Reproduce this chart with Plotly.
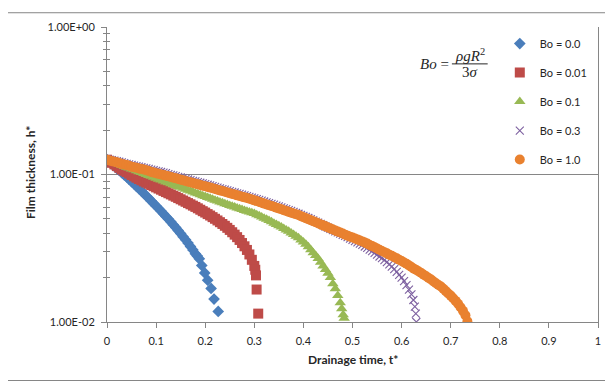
import plotly.graph_objects as go

# ---------------- data ----------------
# (drainage time t*, film thickness h*) pairs per series
bo0_points = [
    (0.000, 0.126), (0.005, 0.122), (0.010, 0.118), (0.015, 0.114), (0.020, 0.110),
    (0.025, 0.1065), (0.030, 0.103), (0.035, 0.0995), (0.040, 0.0962), (0.045, 0.0928),
    (0.050, 0.0895), (0.055, 0.0863), (0.060, 0.0832), (0.065, 0.0802), (0.070, 0.0773),
    (0.075, 0.0744), (0.080, 0.0716), (0.085, 0.0689), (0.090, 0.0662), (0.095, 0.0637),
    (0.100, 0.0612), (0.105, 0.0588), (0.110, 0.0565), (0.115, 0.0542), (0.120, 0.0520),
    (0.125, 0.0499), (0.130, 0.0478), (0.135, 0.0457), (0.140, 0.0437), (0.145, 0.0417),
    (0.150, 0.0398), (0.155, 0.0379), (0.160, 0.0361), (0.165, 0.0343), (0.170, 0.0325),
    (0.175, 0.0308), (0.180, 0.0290), (0.184, 0.0280), (0.188, 0.0268), (0.193, 0.0242),
    (0.199, 0.0215), (0.205, 0.0192), (0.212, 0.0169), (0.218, 0.0143), (0.2265, 0.0118),
]
bo001_points = [
    (0.000, 0.126), (0.005, 0.123), (0.010, 0.120), (0.015, 0.117), (0.020, 0.114),
    (0.025, 0.111), (0.030, 0.108), (0.035, 0.106), (0.040, 0.104), (0.045, 0.1015),
    (0.050, 0.0991), (0.055, 0.0971), (0.060, 0.0951), (0.065, 0.0932), (0.070, 0.0914),
    (0.075, 0.0897), (0.080, 0.0881), (0.085, 0.0865), (0.090, 0.0849), (0.095, 0.0833),
    (0.100, 0.0818), (0.105, 0.0803), (0.110, 0.0789), (0.115, 0.0774), (0.120, 0.0760),
    (0.125, 0.0746), (0.130, 0.0733), (0.135, 0.0719), (0.140, 0.0706), (0.145, 0.0692),
    (0.150, 0.0679), (0.155, 0.0666), (0.160, 0.0653), (0.165, 0.0640), (0.170, 0.0628),
    (0.175, 0.0615), (0.180, 0.0603), (0.185, 0.0590), (0.190, 0.0577), (0.195, 0.0564),
    (0.200, 0.0552), (0.205, 0.0539), (0.210, 0.0527), (0.215, 0.0514), (0.220, 0.0501),
    (0.225, 0.0488), (0.230, 0.0475), (0.235, 0.0462), (0.240, 0.0449), (0.245, 0.0435),
    (0.250, 0.0421), (0.255, 0.0406), (0.260, 0.0391), (0.265, 0.0376), (0.270, 0.0360),
    (0.275, 0.0343), (0.280, 0.0326), (0.285, 0.0308), (0.290, 0.0287), (0.295, 0.0264),
    (0.300, 0.0240), (0.302, 0.0226), (0.3035, 0.0207), (0.3047, 0.0166), (0.308, 0.0114),
]
bo01_points = [
    (0.000, 0.126), (0.005, 0.124), (0.010, 0.122), (0.015, 0.1205), (0.020, 0.119),
    (0.025, 0.117), (0.030, 0.115), (0.035, 0.1135), (0.040, 0.112), (0.045, 0.1105),
    (0.050, 0.109), (0.055, 0.1075), (0.060, 0.106), (0.065, 0.1045), (0.070, 0.103),
    (0.075, 0.1015), (0.080, 0.100), (0.085, 0.0986), (0.090, 0.0972), (0.095, 0.0958),
    (0.100, 0.0944), (0.105, 0.0930), (0.110, 0.0917), (0.115, 0.0904), (0.120, 0.0891),
    (0.125, 0.0878), (0.130, 0.0866), (0.135, 0.0853), (0.140, 0.0841), (0.145, 0.0829),
    (0.150, 0.0818), (0.155, 0.0806), (0.160, 0.0794), (0.165, 0.0783), (0.170, 0.0772),
    (0.175, 0.0761), (0.180, 0.0750), (0.185, 0.0739), (0.190, 0.0729), (0.195, 0.0718),
    (0.200, 0.0708), (0.205, 0.0698), (0.210, 0.0689), (0.215, 0.0679), (0.220, 0.0670),
    (0.225, 0.0661), (0.230, 0.0652), (0.235, 0.0643), (0.240, 0.0634), (0.245, 0.0625),
    (0.250, 0.0617), (0.255, 0.0609), (0.260, 0.0601), (0.265, 0.0593), (0.270, 0.0586),
    (0.275, 0.0578), (0.280, 0.0571), (0.285, 0.0564), (0.290, 0.0557), (0.295, 0.0550),
    (0.300, 0.0543), (0.305, 0.0534), (0.310, 0.0525), (0.315, 0.0515), (0.320, 0.0506),
    (0.325, 0.0497), (0.330, 0.0488), (0.335, 0.0478), (0.340, 0.0468), (0.345, 0.0458),
    (0.350, 0.0449), (0.355, 0.0440), (0.360, 0.0431), (0.365, 0.0421), (0.370, 0.0412),
    (0.375, 0.0402), (0.380, 0.0392), (0.385, 0.0382), (0.390, 0.0372), (0.395, 0.0360),
    (0.400, 0.0348), (0.405, 0.0336), (0.410, 0.0324), (0.415, 0.0309), (0.420, 0.0295),
    (0.425, 0.0282), (0.430, 0.0269), (0.435, 0.0254), (0.440, 0.0240), (0.445, 0.0227),
    (0.450, 0.0214), (0.455, 0.0200), (0.460, 0.0182), (0.465, 0.0168), (0.470, 0.0151),
    (0.475, 0.0135), (0.478, 0.0123), (0.481, 0.0112), (0.483, 0.0106),
]
bo03_points = [
    (0.000, 0.127), (0.005, 0.126), (0.010, 0.125), (0.015, 0.124), (0.020, 0.123),
    (0.025, 0.122), (0.030, 0.121), (0.035, 0.1195), (0.040, 0.118), (0.045, 0.117),
    (0.050, 0.116), (0.055, 0.115), (0.060, 0.114), (0.065, 0.113), (0.070, 0.112),
    (0.075, 0.111), (0.080, 0.110), (0.085, 0.109), (0.090, 0.108), (0.095, 0.107),
    (0.100, 0.106), (0.105, 0.105), (0.110, 0.104), (0.115, 0.103), (0.120, 0.102),
    (0.125, 0.1007), (0.130, 0.0995), (0.135, 0.0985), (0.140, 0.0975), (0.145, 0.0965),
    (0.150, 0.0955), (0.155, 0.0945), (0.160, 0.0935), (0.165, 0.0925), (0.170, 0.0916),
    (0.175, 0.0906), (0.180, 0.0897), (0.185, 0.0888), (0.190, 0.0879), (0.195, 0.0870),
    (0.200, 0.0861), (0.205, 0.0852), (0.210, 0.0843), (0.215, 0.0833), (0.220, 0.0824),
    (0.225, 0.0814), (0.230, 0.0805), (0.235, 0.0797), (0.240, 0.0789), (0.245, 0.0780),
    (0.250, 0.0771), (0.255, 0.0763), (0.260, 0.0755), (0.265, 0.0746), (0.270, 0.0738),
    (0.275, 0.0730), (0.280, 0.0723), (0.285, 0.0714), (0.290, 0.0706), (0.295, 0.0698),
    (0.300, 0.0690), (0.305, 0.0681), (0.310, 0.0673), (0.315, 0.0664), (0.320, 0.0656),
    (0.325, 0.0648), (0.330, 0.0640), (0.335, 0.0632), (0.340, 0.0624), (0.345, 0.0615),
    (0.350, 0.0607), (0.355, 0.0598), (0.360, 0.0590), (0.365, 0.0582), (0.370, 0.0574),
    (0.375, 0.0566), (0.380, 0.0558), (0.385, 0.0550), (0.390, 0.0542), (0.395, 0.0533),
    (0.400, 0.0525), (0.405, 0.0516), (0.410, 0.0507), (0.415, 0.0498), (0.420, 0.0489),
    (0.425, 0.0480), (0.430, 0.0471), (0.435, 0.0462), (0.440, 0.0453), (0.445, 0.0444),
    (0.450, 0.0436), (0.455, 0.0428), (0.460, 0.0420), (0.465, 0.0412), (0.470, 0.0405),
    (0.475, 0.0397), (0.480, 0.0390), (0.485, 0.0383), (0.490, 0.0376), (0.495, 0.0368),
    (0.500, 0.0361), (0.505, 0.0354), (0.510, 0.0347), (0.515, 0.0340), (0.520, 0.0333),
    (0.525, 0.0325), (0.530, 0.0318), (0.535, 0.0310), (0.540, 0.0302), (0.545, 0.0294),
    (0.550, 0.0286), (0.555, 0.0278), (0.560, 0.0271), (0.565, 0.0263), (0.570, 0.0255),
    (0.575, 0.0246), (0.580, 0.0237), (0.585, 0.0228), (0.590, 0.0219), (0.595, 0.0209),
    (0.600, 0.0200), (0.605, 0.0189), (0.610, 0.0178), (0.615, 0.0166), (0.620, 0.0154),
    (0.624, 0.0141), (0.627, 0.0127), (0.629, 0.0114), (0.630, 0.0100),
]
bo1_points = [
    (0.000, 0.126), (0.005, 0.1245), (0.010, 0.123), (0.015, 0.122), (0.020, 0.121),
    (0.025, 0.1195), (0.030, 0.118), (0.035, 0.117), (0.040, 0.116), (0.045, 0.1145),
    (0.050, 0.113), (0.055, 0.112), (0.060, 0.111), (0.065, 0.110), (0.070, 0.109),
    (0.075, 0.108), (0.080, 0.107), (0.085, 0.1055), (0.090, 0.104), (0.095, 0.103),
    (0.100, 0.102), (0.105, 0.101), (0.110, 0.100), (0.115, 0.0991), (0.120, 0.0982),
    (0.125, 0.0972), (0.130, 0.0962), (0.135, 0.0952), (0.140, 0.0942), (0.145, 0.0932),
    (0.150, 0.0923), (0.155, 0.0913), (0.160, 0.0904), (0.165, 0.0894), (0.170, 0.0885),
    (0.175, 0.0876), (0.180, 0.0867), (0.185, 0.0858), (0.190, 0.0849), (0.195, 0.0840),
    (0.200, 0.0832), (0.205, 0.0823), (0.210, 0.0815), (0.215, 0.0806), (0.220, 0.0798),
    (0.225, 0.0789), (0.230, 0.0780), (0.235, 0.0772), (0.240, 0.0764), (0.245, 0.0755),
    (0.250, 0.0746), (0.255, 0.0738), (0.260, 0.0731), (0.265, 0.0722), (0.270, 0.0714),
    (0.275, 0.0707), (0.280, 0.0700), (0.285, 0.0692), (0.290, 0.0684), (0.295, 0.0676),
    (0.300, 0.0668), (0.305, 0.0660), (0.310, 0.0652), (0.315, 0.0643), (0.320, 0.0635),
    (0.325, 0.0627), (0.330, 0.0619), (0.335, 0.0611), (0.340, 0.0604), (0.345, 0.0596),
    (0.350, 0.0589), (0.355, 0.0581), (0.360, 0.0573), (0.365, 0.0565), (0.370, 0.0558),
    (0.375, 0.0551), (0.380, 0.0544), (0.385, 0.0537), (0.390, 0.0531), (0.395, 0.0522),
    (0.400, 0.0514), (0.405, 0.0506), (0.410, 0.0498), (0.415, 0.0490), (0.420, 0.0482),
    (0.425, 0.0474), (0.430, 0.0467), (0.435, 0.0459), (0.440, 0.0452), (0.445, 0.0445),
    (0.450, 0.0438), (0.455, 0.0431), (0.460, 0.0424), (0.465, 0.0417), (0.470, 0.0410),
    (0.475, 0.0404), (0.480, 0.0398), (0.485, 0.0391), (0.490, 0.0385), (0.495, 0.0379),
    (0.500, 0.0374), (0.505, 0.0368), (0.510, 0.0363), (0.515, 0.0357), (0.520, 0.0352),
    (0.525, 0.0346), (0.530, 0.0340), (0.535, 0.0333), (0.540, 0.0327), (0.545, 0.0321),
    (0.550, 0.0315), (0.555, 0.0309), (0.560, 0.0303), (0.565, 0.0297), (0.570, 0.0292),
    (0.575, 0.0286), (0.580, 0.0281), (0.585, 0.0275), (0.590, 0.0270), (0.595, 0.0264),
    (0.600, 0.0259), (0.605, 0.0253), (0.610, 0.0248), (0.615, 0.0242), (0.620, 0.0236),
    (0.625, 0.0230), (0.630, 0.0225), (0.635, 0.0220), (0.640, 0.0215), (0.645, 0.0209),
    (0.650, 0.0204), (0.655, 0.0199), (0.660, 0.0194), (0.665, 0.0188), (0.670, 0.0183),
    (0.675, 0.0178), (0.680, 0.0174), (0.685, 0.0168), (0.690, 0.0162), (0.695, 0.0156),
    (0.700, 0.0151), (0.705, 0.0145), (0.710, 0.0139), (0.715, 0.0133), (0.720, 0.0126),
    (0.725, 0.0119), (0.730, 0.0111), (0.734, 0.0101),
]

series_names = ["Bo = 0.0", "Bo = 0.01", "Bo = 0.1", "Bo = 0.3", "Bo = 1.0"]
y_tickvals = [0.01, 0.1, 1]
y_ticktext = ["1.00E-02", "1.00E-01", "1.00E+00"]
y_minor = [0.02, 0.03, 0.04, 0.05, 0.06, 0.07, 0.08, 0.09, 0.2, 0.3, 0.4, 0.5, 0.6, 0.7, 0.8, 0.9]

# ---------------- styling ----------------
FONT = "Lato, 'Open Sans', sans-serif"
AX = "#868686"
TXT = "#262626"

styles = [
    dict(symbol="diamond", size=9, color="#4A7EBB"),
    dict(symbol="square", size=10, color="#BE4B48"),
    dict(symbol="triangle-up", size=10, color="#98B954"),
    dict(symbol="x-thin", size=8, color="#7D60A0"),
    dict(symbol="circle", size=10, color="#E9812F"),
]
all_points = [bo0_points, bo001_points, bo01_points, bo03_points, bo1_points]

fig = go.Figure()
for i, (pts, name, st) in enumerate(zip(all_points, series_names, styles)):
    t_vals = [p[0] for p in pts]
    h_vals = [p[1] for p in pts]
    if st["symbol"] == "x-thin":
        marker = dict(symbol="x-thin", size=st["size"], color=st["color"],
                      line=dict(color=st["color"], width=1.1))
    else:
        marker = dict(symbol=st["symbol"], size=st["size"], color=st["color"], line=dict(width=0))
    fig.add_trace(go.Scatter(x=t_vals, y=h_vals, mode="markers", name=name, marker=marker,
                             legendgroup="g%d" % i))

# invisible trace on the overlay axis (for crossing minor ticks)
fig.add_trace(go.Scatter(x=[0], y=[0.1], yaxis="y2", mode="markers",
                         marker=dict(opacity=0), showlegend=False, hoverinfo="skip"))

# page body adds an 8px offset; the figure is sized/margined to compensate
fig.update_layout(
    width=605, height=376,
    margin=dict(l=99, r=12, t=14, b=62),
    paper_bgcolor="white", plot_bgcolor="white",
    font=dict(family=FONT, size=11, color=TXT),
    showlegend=True,
    legend=dict(x=0.80, y=0.993, xanchor="left", yanchor="top",
                bgcolor="rgba(0,0,0,0)", font=dict(family=FONT, size=11, color=TXT),
                tracegroupgap=10, itemwidth=30),
    xaxis=dict(range=[0, 1], dtick=0.1, tick0=0, showgrid=False, zeroline=False,
               showline=True, linecolor=AX, linewidth=1,
               ticks="outside", ticklen=5, tickcolor=AX, ticklabelstandoff=4,
               tickfont=dict(family=FONT, size=11, color=TXT)),
    yaxis=dict(type="log", range=[-2, 0], tickmode="array", tickvals=y_tickvals,
               ticktext=y_ticktext, showgrid=True, gridcolor=AX, gridwidth=1,
               zeroline=False, showline=True, mirror=True, linecolor=AX, linewidth=1,
               ticks="outside", ticklen=5, tickcolor=AX, ticklabelstandoff=4,
               tickfont=dict(family=FONT, size=11, color=TXT),
               minor=dict(tickmode="array", tickvals=y_minor, ticks="outside",
                          ticklen=3, tickcolor=AX, showgrid=False)),
    yaxis2=dict(type="log", range=[-2, 0], overlaying="y", side="left",
                showticklabels=False, showgrid=False, zeroline=False, showline=False,
                tickmode="array", tickvals=y_minor, ticks="inside", ticklen=3, tickcolor=AX),
)

# axis titles
fig.add_annotation(text="<b>Film thickness, h*</b>", xref="paper", yref="paper",
                   x=(30 - 107) / 494, y=(322 - 170) / 300, xanchor="center", yanchor="middle",
                   textangle=-90, showarrow=False,
                   font=dict(family=FONT, size=12, color=TXT))
fig.add_annotation(text="<b>Drainage time, t*</b>", xref="paper", yref="paper",
                   x=(355 - 107) / 494, y=(322 - 360) / 300, xanchor="center", yanchor="middle",
                   showarrow=False, font=dict(family=FONT, size=12, color=TXT))

# Bond number formula
SERIF = "'Liberation Serif', 'DejaVu Serif', serif"
fig.add_annotation(text="<i>Bo</i> =", xref="paper", yref="paper",
                   x=(436 - 107) / 494, y=(322 - 60) / 300, xanchor="center", yanchor="middle",
                   showarrow=False, font=dict(family=SERIF, size=15, color=TXT))
fig.add_annotation(text="<i>ρgR</i><sup>2</sup>", xref="paper", yref="paper",
                   x=(472 - 107) / 494, y=(322 - 50) / 300, xanchor="center", yanchor="middle",
                   showarrow=False, font=dict(family=SERIF, size=15, color=TXT))
fig.add_annotation(text="3<i>σ</i>", xref="paper", yref="paper",
                   x=(472 - 107) / 494, y=(322 - 68) / 300, xanchor="center", yanchor="middle",
                   showarrow=False, font=dict(family=SERIF, size=15, color=TXT))
fig.add_shape(type="line", xref="paper", yref="paper",
              x0=(454 - 107) / 494, x1=(490 - 107) / 494,
              y0=(322 - 59.5) / 300, y1=(322 - 59.5) / 300,
              line=dict(color=TXT, width=1))

# outer chart border
fig.add_shape(type="rect", xref="paper", yref="paper",
              x0=(5.5 - 107) / 494, x1=(611.5 - 107) / 494,
              y0=(322 - 381.5) / 300, y1=(322 - 7.5) / 300,
              line=dict(color=AX, width=1), fillcolor="rgba(0,0,0,0)", layer="above")

fig.write_html("out.html")
